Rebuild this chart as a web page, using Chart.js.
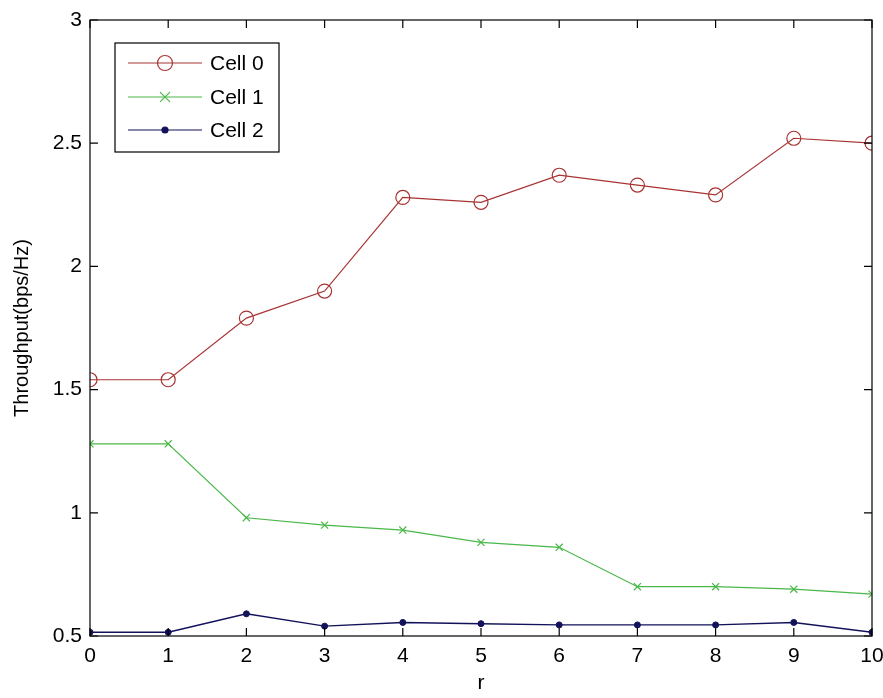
<!DOCTYPE html>
<html>
<head>
<meta charset="utf-8">
<script src="https://cdn.jsdelivr.net/npm/chart.js@4/dist/chart.umd.min.js"></script>
<style>
  html, body { margin: 0; padding: 0; background: #fff; }
  #wrap { width: 883px; height: 698px; }
</style>
</head>
<body>
<div id="wrap"><canvas id="throughput" width="883" height="698"></canvas></div>
<script>
// r values along the x axis
const rValues = [0, 1, 2, 3, 4, 5, 6, 7, 8, 9, 10];

// throughput per cell (bps/Hz)
const cell0 = [1.54, 1.54, 1.79, 1.90, 2.28, 2.26, 2.37, 2.33, 2.29, 2.52, 2.50];
const cell1 = [1.28, 1.28, 0.98, 0.95, 0.93, 0.88, 0.86, 0.70, 0.70, 0.69, 0.67];
const cell2 = [0.515, 0.515, 0.59, 0.54, 0.555, 0.55, 0.545, 0.545, 0.545, 0.555, 0.515];

const yTicks = [0.5, 1, 1.5, 2, 2.5, 3];

const FONT = 'Arial, "Liberation Sans", Helvetica, sans-serif';

const toPoints = (vals) => vals.map((v, i) => ({x: rValues[i], y: v}));

// matlab style box with inward ticks on all four sides
const boxPlugin = {
  id: 'boxPlugin',
  afterDraw(chart) {
    const {ctx, chartArea: a, scales} = chart;
    const len = 8;
    ctx.save();
    ctx.strokeStyle = '#000';
    ctx.lineWidth = 1.2;
    ctx.strokeRect(a.left, a.top, a.right - a.left, a.bottom - a.top);
    ctx.beginPath();
    rValues.forEach(v => {
      const px = scales.x.getPixelForValue(v);
      ctx.moveTo(px, a.bottom); ctx.lineTo(px, a.bottom - len);
      ctx.moveTo(px, a.top); ctx.lineTo(px, a.top + len);
    });
    yTicks.forEach(v => {
      const py = scales.y.getPixelForValue(v);
      ctx.moveTo(a.left, py); ctx.lineTo(a.left + len, py);
      ctx.moveTo(a.right, py); ctx.lineTo(a.right - len, py);
    });
    ctx.stroke();
    ctx.restore();
  }
};

// legend box in the upper left corner
const legendPlugin = {
  id: 'boxLegend',
  afterDraw(chart) {
    const ctx = chart.ctx;
    const bx = 115, by = 43, bw = 164, bh = 109;
    const rows = [63, 97, 130];
    const legendRadius = [7.5, 7, 3];
    ctx.save();
    ctx.fillStyle = '#fff';
    ctx.fillRect(bx, by, bw, bh);
    ctx.strokeStyle = '#000';
    ctx.lineWidth = 1.2;
    ctx.strokeRect(bx, by, bw, bh);
    chart.data.datasets.forEach((ds, i) => {
      const y = rows[i];
      ctx.strokeStyle = ds.borderColor;
      ctx.lineWidth = 1.2;
      ctx.beginPath();
      ctx.moveTo(128, y);
      ctx.lineTo(202, y);
      ctx.stroke();
      ctx.fillStyle = ds.pointBackgroundColor;
      ctx.strokeStyle = ds.pointBorderColor;
      Chart.helpers.drawPoint(ctx, {
        pointStyle: ds.pointStyle,
        radius: legendRadius[i],
        borderWidth: 1.2,
        rotation: 0
      }, 165, y);
      ctx.fillStyle = '#000';
      ctx.font = '21px ' + FONT;
      ctx.textBaseline = 'middle';
      ctx.textAlign = 'left';
      ctx.fillText(ds.label, 210, y + 1);
    });
    ctx.restore();
  }
};

const ctx = document.querySelector('#throughput');

const chartData = {
  datasets: [
    {
      label: 'Cell 0',
      data: toPoints(cell0),
      borderColor: '#a83232',
      borderWidth: 1.2,
      pointStyle: 'circle',
      pointRadius: 7,
      pointBorderWidth: 1.2,
      pointBorderColor: '#a83232',
      pointBackgroundColor: 'rgba(0,0,0,0)'
    },
    {
      label: 'Cell 1',
      data: toPoints(cell1),
      borderColor: '#48b848',
      borderWidth: 1.2,
      pointStyle: 'crossRot',
      pointRadius: 5,
      pointBorderWidth: 1.2,
      pointBorderColor: '#48b848',
      pointBackgroundColor: '#48b848'
    },
    {
      label: 'Cell 2',
      data: toPoints(cell2),
      borderColor: '#12125a',
      borderWidth: 1.4,
      pointStyle: 'circle',
      pointRadius: 3,
      pointBorderWidth: 1,
      pointBorderColor: '#12125a',
      pointBackgroundColor: '#12125a'
    }
  ]
};

const throughputChart = new Chart(ctx, {
  type: 'line',
  data: chartData,
  plugins: [boxPlugin, legendPlugin],
  options: {
    responsive: false,
    animation: false,
    layout: { padding: { left: 0, top: 20, right: 11, bottom: 0 } },
    plugins: {
      legend: { display: false },
      tooltip: { enabled: false }
    },
    elements: { line: { tension: 0 } },
    scales: {
      x: {
        type: 'linear',
        min: 0,
        max: 10,
        afterFit: (scale) => {
          scale.height = 62;
          scale.paddingLeft = 0;
          scale.paddingRight = 0;
        },
        afterBuildTicks: (scale) => { scale.ticks = rValues.map(v => ({value: v})); },
        grid: { display: false, drawTicks: false },
        border: { display: false },
        ticks: {
          padding: 8,
          color: '#000',
          font: { family: FONT, size: 21 },
          maxRotation: 0,
          callback: (v) => String(v)
        },
        title: {
          display: true,
          text: 'r',
          color: '#000',
          font: { family: FONT, size: 21 },
          padding: { top: 0, bottom: 2 }
        }
      },
      y: {
        min: 0.5,
        max: 3,
        afterFit: (scale) => {
          scale.width = 90;
          scale.paddingTop = 0;
          scale.paddingBottom = 0;
        },
        afterBuildTicks: (scale) => { scale.ticks = yTicks.map(v => ({value: v})); },
        grid: { display: false, drawTicks: false },
        border: { display: false },
        ticks: {
          padding: 8,
          color: '#000',
          font: { family: FONT, size: 21 },
          callback: (v) => String(v)
        },
        title: {
          display: true,
          text: 'Throughput(bps/Hz)',
          color: '#000',
          font: { family: FONT, size: 20 },
          padding: { top: 10, bottom: 0 }
        }
      }
    }
  }
});
</script>
</body>
</html>
